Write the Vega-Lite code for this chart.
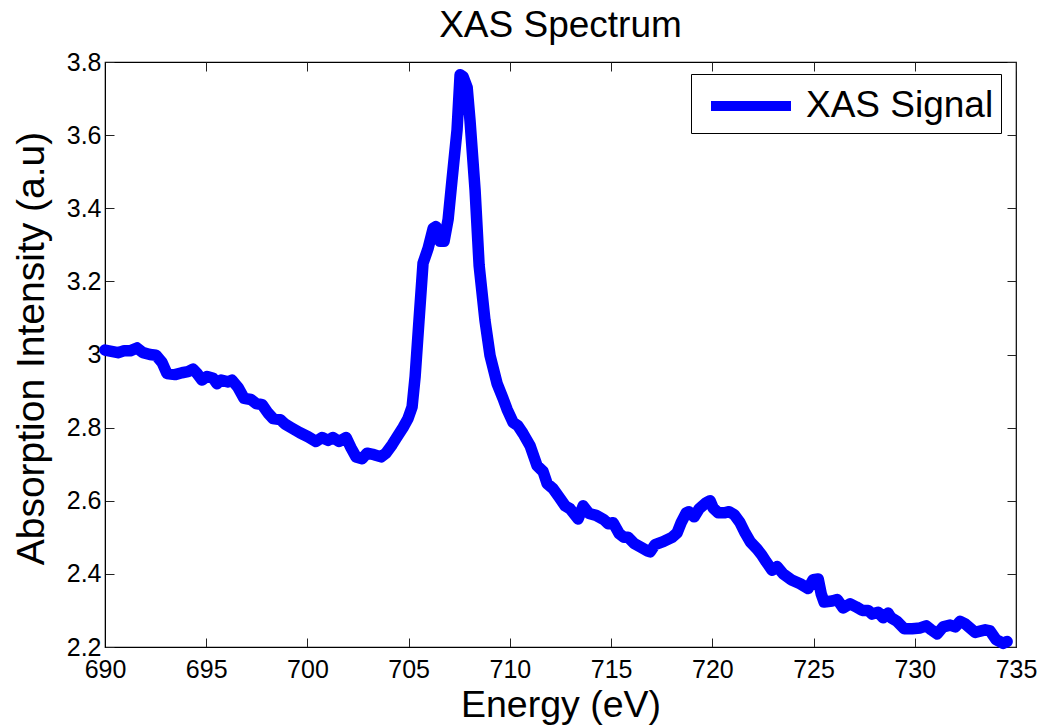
{
  "$schema": "https://vega.github.io/schema/vega-lite/v6.json",
  "width": 911,
  "height": 585,
  "autosize": {"type": "none"},
  "padding": {"left": 105, "top": 62, "right": 28, "bottom": 78},
  "background": "white",
  "config": {
    "font": "Liberation Sans",
    "view": {"stroke": "black", "strokeWidth": 1.2},
    "axis": {
      "domainColor": "black",
      "tickColor": "#222222",
      "labelColor": "black",
      "titleColor": "black",
      "grid": false,
      "labelFont": "Liberation Sans",
      "titleFont": "Liberation Sans",
      "labelFontSize": 25,
      "titleFontSize": 37.5,
      "titleFontWeight": "normal"
    }
  },
  "title": {
    "text": "XAS Spectrum",
    "font": "Liberation Sans",
    "fontSize": 37,
    "fontWeight": "normal",
    "color": "black",
    "anchor": "middle",
    "baseline": "alphabetic",
    "offset": 10,
    "dy": 34
  },
  "data": {
    "values": [
      {"energy": 690.0, "intensity": 3.012},
      {"energy": 690.64, "intensity": 3.005},
      {"energy": 690.94, "intensity": 3.01},
      {"energy": 691.24, "intensity": 3.01},
      {"energy": 691.58, "intensity": 3.018},
      {"energy": 691.88, "intensity": 3.005},
      {"energy": 692.22, "intensity": 3.0},
      {"energy": 692.52, "intensity": 2.998},
      {"energy": 692.82, "intensity": 2.978},
      {"energy": 693.06, "intensity": 2.948},
      {"energy": 693.46, "intensity": 2.945},
      {"energy": 693.8, "intensity": 2.95},
      {"energy": 694.1, "intensity": 2.953},
      {"energy": 694.35, "intensity": 2.96},
      {"energy": 694.55, "intensity": 2.948},
      {"energy": 694.79, "intensity": 2.93},
      {"energy": 695.04, "intensity": 2.94},
      {"energy": 695.34, "intensity": 2.935},
      {"energy": 695.53, "intensity": 2.92},
      {"energy": 695.73, "intensity": 2.93},
      {"energy": 696.08, "intensity": 2.925},
      {"energy": 696.27, "intensity": 2.93},
      {"energy": 696.57, "intensity": 2.91},
      {"energy": 696.87, "intensity": 2.88},
      {"energy": 697.21, "intensity": 2.877},
      {"energy": 697.46, "intensity": 2.866},
      {"energy": 697.76, "intensity": 2.863},
      {"energy": 698.05, "intensity": 2.84},
      {"energy": 698.3, "intensity": 2.825},
      {"energy": 698.65, "intensity": 2.822},
      {"energy": 698.89, "intensity": 2.81},
      {"energy": 699.19, "intensity": 2.8},
      {"energy": 699.63, "intensity": 2.786},
      {"energy": 700.03, "intensity": 2.775},
      {"energy": 700.42, "intensity": 2.762},
      {"energy": 700.72, "intensity": 2.773},
      {"energy": 701.02, "intensity": 2.765},
      {"energy": 701.26, "intensity": 2.773},
      {"energy": 701.56, "intensity": 2.762},
      {"energy": 701.91, "intensity": 2.773},
      {"energy": 702.15, "intensity": 2.745},
      {"energy": 702.4, "intensity": 2.72},
      {"energy": 702.7, "intensity": 2.715},
      {"energy": 702.94, "intensity": 2.73},
      {"energy": 703.29, "intensity": 2.726},
      {"energy": 703.64, "intensity": 2.72},
      {"energy": 703.88, "intensity": 2.73},
      {"energy": 704.18, "intensity": 2.753},
      {"energy": 704.43, "intensity": 2.775},
      {"energy": 704.72, "intensity": 2.8},
      {"energy": 704.97, "intensity": 2.825},
      {"energy": 705.17, "intensity": 2.857},
      {"energy": 705.32, "intensity": 2.94},
      {"energy": 705.51, "intensity": 3.093},
      {"energy": 705.71, "intensity": 3.25},
      {"energy": 705.96, "intensity": 3.29},
      {"energy": 706.21, "intensity": 3.345},
      {"energy": 706.35, "intensity": 3.35},
      {"energy": 706.55, "intensity": 3.31},
      {"energy": 706.75, "intensity": 3.31},
      {"energy": 706.95, "intensity": 3.37},
      {"energy": 707.14, "intensity": 3.477},
      {"energy": 707.39, "intensity": 3.614},
      {"energy": 707.54, "intensity": 3.765},
      {"energy": 707.69, "intensity": 3.76},
      {"energy": 707.89, "intensity": 3.73},
      {"energy": 708.03, "intensity": 3.64},
      {"energy": 708.28, "intensity": 3.45},
      {"energy": 708.48, "intensity": 3.244},
      {"energy": 708.77, "intensity": 3.093},
      {"energy": 709.02, "intensity": 2.997},
      {"energy": 709.37, "intensity": 2.92},
      {"energy": 709.66, "intensity": 2.88},
      {"energy": 709.86, "intensity": 2.85},
      {"energy": 710.16, "intensity": 2.814},
      {"energy": 710.4, "intensity": 2.805},
      {"energy": 710.65, "intensity": 2.784},
      {"energy": 711.0, "intensity": 2.75},
      {"energy": 711.34, "intensity": 2.696},
      {"energy": 711.64, "intensity": 2.68},
      {"energy": 711.84, "intensity": 2.647},
      {"energy": 712.13, "intensity": 2.633},
      {"energy": 712.43, "intensity": 2.61},
      {"energy": 712.73, "intensity": 2.586},
      {"energy": 712.97, "intensity": 2.578},
      {"energy": 713.37, "intensity": 2.55},
      {"energy": 713.62, "intensity": 2.586},
      {"energy": 713.91, "intensity": 2.565},
      {"energy": 714.26, "intensity": 2.56},
      {"energy": 714.65, "intensity": 2.548},
      {"energy": 714.85, "intensity": 2.537},
      {"energy": 715.1, "intensity": 2.54},
      {"energy": 715.4, "intensity": 2.51},
      {"energy": 715.64, "intensity": 2.5},
      {"energy": 715.84, "intensity": 2.5},
      {"energy": 716.14, "intensity": 2.483},
      {"energy": 716.43, "intensity": 2.474},
      {"energy": 716.78, "intensity": 2.463},
      {"energy": 716.93, "intensity": 2.46},
      {"energy": 717.17, "intensity": 2.48},
      {"energy": 717.57, "intensity": 2.488},
      {"energy": 718.01, "intensity": 2.5},
      {"energy": 718.26, "intensity": 2.512},
      {"energy": 718.46, "intensity": 2.54},
      {"energy": 718.71, "intensity": 2.567},
      {"energy": 718.85, "intensity": 2.57},
      {"energy": 719.1, "intensity": 2.556},
      {"energy": 719.35, "intensity": 2.578},
      {"energy": 719.7, "intensity": 2.595},
      {"energy": 719.89, "intensity": 2.6},
      {"energy": 720.04, "intensity": 2.58},
      {"energy": 720.29, "intensity": 2.567},
      {"energy": 720.59, "intensity": 2.567},
      {"energy": 720.83, "intensity": 2.57},
      {"energy": 721.08, "intensity": 2.562},
      {"energy": 721.37, "intensity": 2.54},
      {"energy": 721.62, "intensity": 2.512},
      {"energy": 721.87, "intensity": 2.488},
      {"energy": 722.21, "intensity": 2.468},
      {"energy": 722.46, "intensity": 2.45},
      {"energy": 722.66, "intensity": 2.433},
      {"energy": 722.95, "intensity": 2.41},
      {"energy": 723.2, "intensity": 2.42},
      {"energy": 723.5, "intensity": 2.4},
      {"energy": 723.89, "intensity": 2.384},
      {"energy": 724.34, "intensity": 2.373},
      {"energy": 724.73, "intensity": 2.36},
      {"energy": 724.98, "intensity": 2.384},
      {"energy": 725.23, "intensity": 2.386},
      {"energy": 725.38, "intensity": 2.345},
      {"energy": 725.52, "intensity": 2.323},
      {"energy": 725.92, "intensity": 2.326},
      {"energy": 726.17, "intensity": 2.33},
      {"energy": 726.46, "intensity": 2.307},
      {"energy": 726.81, "intensity": 2.318},
      {"energy": 727.1, "intensity": 2.31},
      {"energy": 727.4, "intensity": 2.3},
      {"energy": 727.7, "intensity": 2.3},
      {"energy": 727.89, "intensity": 2.29},
      {"energy": 728.19, "intensity": 2.295},
      {"energy": 728.44, "intensity": 2.28},
      {"energy": 728.68, "intensity": 2.293},
      {"energy": 728.83, "intensity": 2.28},
      {"energy": 729.13, "intensity": 2.27},
      {"energy": 729.48, "intensity": 2.25},
      {"energy": 729.87, "intensity": 2.25},
      {"energy": 730.27, "intensity": 2.252},
      {"energy": 730.56, "intensity": 2.258},
      {"energy": 730.81, "intensity": 2.247},
      {"energy": 731.11, "intensity": 2.236},
      {"energy": 731.4, "intensity": 2.255},
      {"energy": 731.75, "intensity": 2.26},
      {"energy": 732.0, "intensity": 2.255},
      {"energy": 732.24, "intensity": 2.27},
      {"energy": 732.49, "intensity": 2.263},
      {"energy": 732.98, "intensity": 2.24},
      {"energy": 733.48, "intensity": 2.247},
      {"energy": 733.72, "intensity": 2.244},
      {"energy": 734.02, "intensity": 2.22},
      {"energy": 734.37, "intensity": 2.21},
      {"energy": 734.56, "intensity": 2.215}
    ]
  },
  "resolve": {"axis": {"x": "independent", "y": "independent"}},
  "layer": [
    {
      "mark": {"type": "line", "strokeWidth": 11.5, "strokeJoin": "round", "strokeCap": "round"},
      "encoding": {
        "x": {
          "field": "energy",
          "type": "quantitative",
          "scale": {"domain": [690, 735], "nice": false, "zero": false},
          "axis": {
            "orient": "bottom",
            "title": "Energy (eV)",
            "values": [690, 695, 700, 705, 710, 715, 720, 725, 730, 735],
            "tickSize": -9,
            "labelPadding": 19,
            "titleX": 455.5,
            "titleY": 69,
            "titleAlign": "center",
            "titleBaseline": "alphabetic",
            "labelFlush": false
          }
        },
        "y": {
          "field": "intensity",
          "type": "quantitative",
          "scale": {"domain": [2.2, 3.8], "nice": false, "zero": false},
          "axis": {
            "orient": "left",
            "title": "Absorption Intensity (a.u)",
            "titleFontSize": 39,
            "titleX": -62,
            "titleY": 286,
            "titleAlign": "center",
            "titleBaseline": "alphabetic",
            "values": [2.2, 2.4, 2.6, 2.8, 3, 3.2, 3.4, 3.6, 3.8],
            "format": "~g",
            "tickSize": -9,
            "labelPadding": 13,
            "labelFlush": false
          }
        },
        "color": {
          "datum": "XAS Signal",
          "scale": {"range": ["#0000ff"]},
          "legend": {
            "title": null,
            "orient": "none",
            "legendX": 586,
            "legendY": 12,
            "symbolType": "M-1,0H3",
            "symbolSize": 1600,
            "symbolStrokeWidth": 10,
            "symbolOffset": 8,
            "labelFontSize": 37,
            "labelFont": "Liberation Sans",
            "labelColor": "black",
            "labelOffset": 50,
            "labelLimit": 400,
            "labelExpr": "datum.label + '  '",
            "padding": 7,
            "strokeColor": "black",
            "fillColor": "white",
            "cornerRadius": 0
          }
        }
      }
    },
    {
      "mark": {"type": "line", "opacity": 0},
      "encoding": {
        "x": {
          "field": "energy",
          "type": "quantitative",
          "axis": {
            "orient": "top",
            "title": null,
            "labels": false,
            "domain": false,
            "minExtent": 0,
            "maxExtent": 0,
            "values": [690, 695, 700, 705, 710, 715, 720, 725, 730, 735],
            "tickSize": -9
          }
        },
        "y": {
          "field": "intensity",
          "type": "quantitative",
          "axis": {
            "orient": "right",
            "title": null,
            "labels": false,
            "domain": false,
            "minExtent": 0,
            "maxExtent": 0,
            "values": [2.2, 2.4, 2.6, 2.8, 3, 3.2, 3.4, 3.6, 3.8],
            "tickSize": -9
          }
        }
      }
    }
  ]
}
